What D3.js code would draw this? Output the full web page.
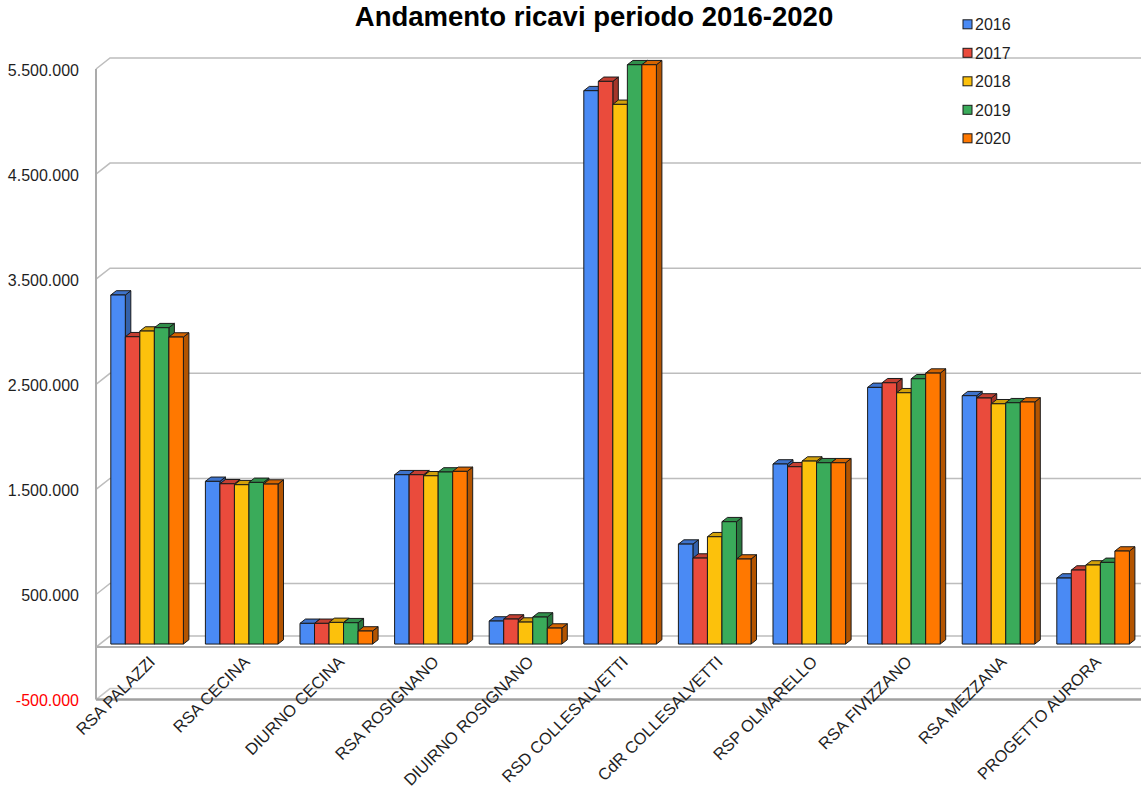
<!DOCTYPE html>
<html>
<head>
<meta charset="utf-8">
<script src="https://cdn.jsdelivr.net/npm/d3@7"></script>
<style>
  html, body { margin: 0; padding: 0; background: #fff; }
  svg { display: block; font-family: "Liberation Sans", Arial, sans-serif; }
</style>
</head>
<body>
<svg id="chart" width="1141" height="792"></svg>
<script>
// Revenue per facility, 2016-2020 (euro)
const categories = ["RSA PALAZZI", "RSA CECINA", "DIURNO CECINA", "RSA ROSIGNANO", "DIUIRNO ROSIGNANO",
  "RSD COLLESALVETTI", "CdR COLLESALVETTI", "RSP OLMARELLO", "RSA FIVIZZANO", "RSA MEZZANA", "PROGETTO AURORA"];
const years = ["2016", "2017", "2018", "2019", "2020"];
const values2016 = [3321000, 1548000, 197000, 1611000, 219000, 5265000, 951000, 1713000, 2442000, 2363000, 628000];
const values2017 = [2924000, 1525000, 197000, 1611000, 238000, 5354000, 818000, 1687000, 2486000, 2341000, 704000];
const values2018 = [2978000, 1516000, 206000, 1601000, 209000, 5135000, 1021000, 1741000, 2391000, 2286000, 752000];
const values2019 = [3010000, 1538000, 203000, 1637000, 257000, 5512000, 1164000, 1725000, 2524000, 2296000, 777000];
const values2020 = [2921000, 1522000, 124000, 1643000, 152000, 5512000, 809000, 1725000, 2578000, 2303000, 885000];
const yTicks = [-500000, 500000, 1500000, 2500000, 3500000, 4500000, 5500000];
const seriesColors = ["#4a8af4", "#ea4b3c", "#fcc10c", "#3aab5a", "#ff7800"];

const series = [values2016, values2017, values2018, values2019, values2020];
const svg = d3.select("#chart");
const W = 1141;

// Oblique 3D geometry: wall depth and bar depth offsets
const wall = { dx: 14, dy: -11 };
const barFront = { dx: 3.8, dy: -3 };
const barDepth = { dx: 5.5, dy: -4.3 };

const yFront = d3.scaleLinear().domain([-500000, 5500000]).range([699.6, 69]);
const yBack = v => yFront(v) + wall.dy;
const yBar = v => yFront(v) + barFront.dy;

const x0 = d3.scaleBand().domain(categories).range([96, 1136.6])
  .paddingInner(0.2325).paddingOuter(0.11625);
const x1 = d3.scaleBand().domain(years).range([0, x0.bandwidth()]);

const itLocale = d3.formatLocale({ decimal: ",", thousands: ".", grouping: [3], currency: ["€", ""], minus: "-" });
const fmt = itLocale.format(",.0f");

const left = 96;
const gridColor = "#bdbdbd";

// Back wall gridlines with left-wall diagonals
const grid = svg.append("g");
const gridVals = [500000, 1500000, 2500000, 3500000, 4500000, 5500000, 0];
gridVals.forEach(v => {
  grid.append("path")
    .attr("d", `M${left},${yFront(v)}L${left + wall.dx},${yBack(v)}L${W},${yBack(v)}`)
    .attr("fill", "none").attr("stroke", gridColor).attr("stroke-width", 1.5);
});

// Floor at the axis minimum
const vMin = -500000;
grid.append("path")
  .attr("d", `M${left},${yFront(vMin)}L${left + wall.dx},${yBack(vMin)}L${W},${yBack(vMin)}`)
  .attr("fill", "none").attr("stroke", "#c8c8c8").attr("stroke-width", 1.5);
grid.append("line")
  .attr("x1", left).attr("x2", W).attr("y1", yFront(vMin)).attr("y2", yFront(vMin))
  .attr("stroke", "#a0a0a0").attr("stroke-width", 2.5);
// Left edge
grid.append("line")
  .attr("x1", left).attr("x2", left).attr("y1", yFront(5500000)).attr("y2", yFront(vMin))
  .attr("stroke", "#ababab").attr("stroke-width", 2);

// Front edge of the zero plane
grid.append("line")
  .attr("x1", left).attr("x2", W).attr("y1", yFront(0)).attr("y2", yFront(0))
  .attr("stroke", "#b0b0b0").attr("stroke-width", 2);

// Bars
const bars = svg.append("g");
categories.forEach((cat, ci) => {
  years.forEach((yr, si) => {
    const v = series[si][ci];
    const c = seriesColors[si];
    const x = x0(cat) + x1(yr) + barFront.dx;
    const w = x1.bandwidth();
    const yt = yBar(v);
    const yb = yBar(0);
    const g = bars.append("g").attr("stroke", "#1a1a1a").attr("stroke-width", 1).attr("stroke-linejoin", "round");
    // side face
    g.append("path")
      .attr("d", `M${x + w},${yt}L${x + w + barDepth.dx},${yt + barDepth.dy}L${x + w + barDepth.dx},${yb + barDepth.dy}L${x + w},${yb}Z`)
      .attr("fill", d3.color(c).darker(1).formatHex());
    // top face
    g.append("path")
      .attr("d", `M${x},${yt}L${x + barDepth.dx},${yt + barDepth.dy}L${x + w + barDepth.dx},${yt + barDepth.dy}L${x + w},${yt}Z`)
      .attr("fill", d3.color(c).darker(0.5).formatHex());
    // front face
    g.append("rect")
      .attr("x", x).attr("y", yt).attr("width", w).attr("height", yb - yt)
      .attr("fill", c);
  });
});

// Value axis labels
const yAxis = d3.axisLeft(yFront).tickValues(yTicks).tickFormat(fmt).tickSize(0).tickPadding(0);
const yAxisG = svg.append("g").attr("transform", "translate(79,1)").call(yAxis);
yAxisG.select(".domain").remove();
yAxisG.selectAll("text")
  .attr("font-family", "'Liberation Sans', Arial, sans-serif")
  .attr("font-size", 16)
  .attr("fill", d => d < 0 ? "#ff0000" : "#1f1f1f");

// Category labels
const catG = svg.append("g");
categories.forEach(cat => {
  const cx = x0(cat) + x0.bandwidth() / 2 + barFront.dx + 9;
  catG.append("text")
    .attr("transform", `translate(${cx},663) rotate(-45)`)
    .attr("text-anchor", "end")
    .attr("font-size", 16.5)
    .attr("fill", "#1f1f1f")
    .text(cat);
});

// Title
svg.append("text")
  .attr("x", 594).attr("y", 26)
  .attr("text-anchor", "middle")
  .attr("font-size", 27.5).attr("font-weight", "bold")
  .attr("fill", "#000")
  .text("Andamento ricavi periodo 2016-2020");

// Legend
const legend = svg.append("g");
years.forEach((yr, i) => {
  const cy = 24.3 + i * 28.5;
  legend.append("rect")
    .attr("x", 963).attr("y", cy - 4.5).attr("width", 9).attr("height", 9)
    .attr("fill", seriesColors[i]).attr("stroke", "#1a1a1a").attr("stroke-width", 1);
  legend.append("text")
    .attr("x", 975).attr("y", cy).attr("dy", "0.36em")
    .attr("font-size", 16).attr("fill", "#1f1f1f")
    .text(yr);
});
</script>
</body>
</html>
